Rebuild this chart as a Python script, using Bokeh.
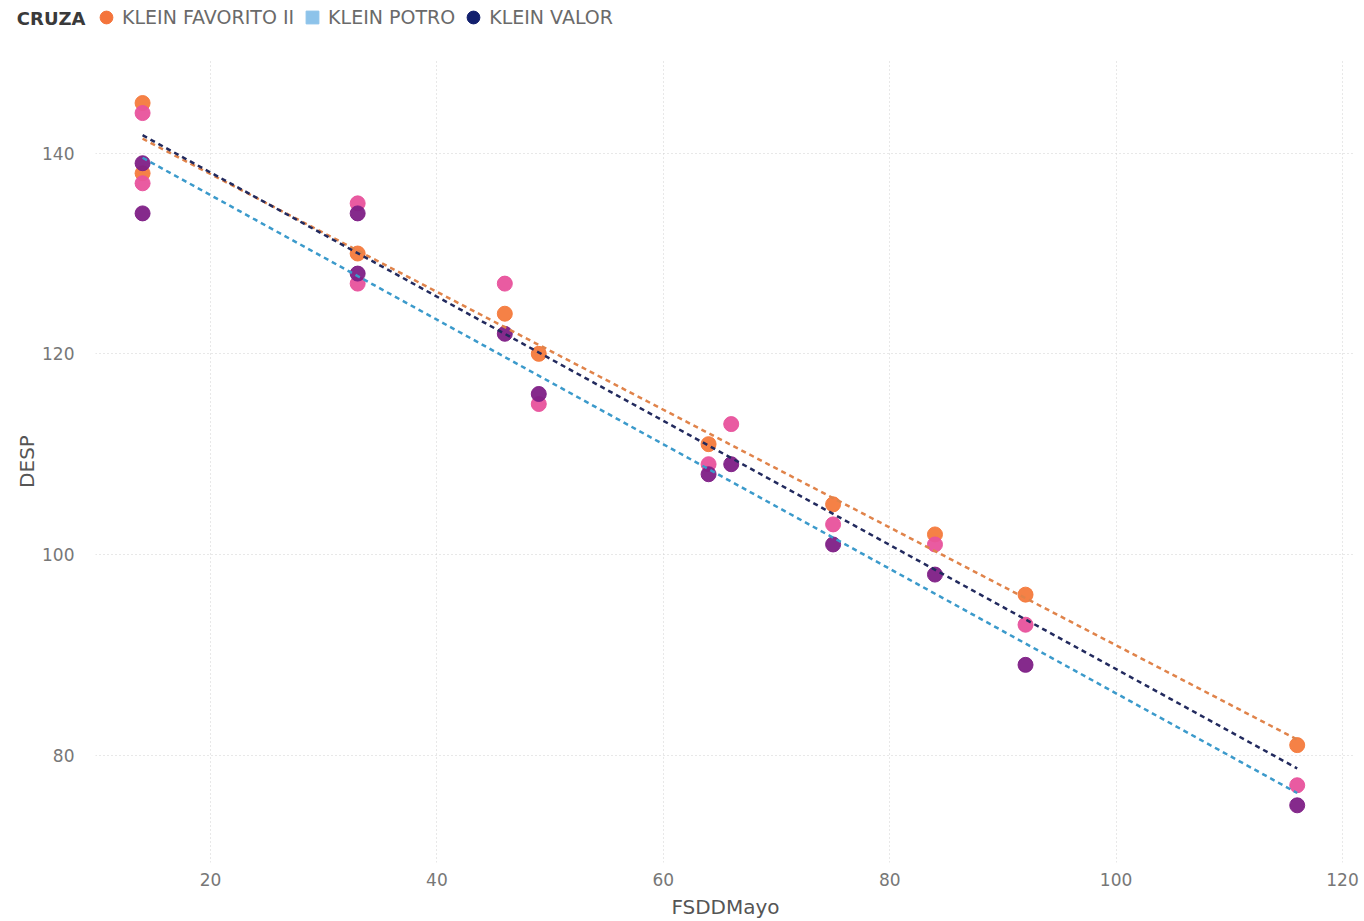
import numpy as np
from bokeh.plotting import figure
from bokeh.layouts import column
from bokeh.models import Legend, LegendItem, FixedTicker, Range1d
from bokeh.embed import file_html
from bokeh.resources import INLINE

# ---------------- data ----------------
legend_title = "CRUZA"
series_names = ["KLEIN FAVORITO II", "KLEIN POTRO", "KLEIN VALOR"]
legend_markers = ["circle", "square", "circle"]
legend_colors = ["#F4743B", "#8DC3EA", "#12206E"]

fav_x = [14, 14, 33, 46, 49, 64, 75, 84, 92, 116]
fav_y = [145, 138, 130, 124, 120, 111, 105, 102, 96, 81]

valor_x = [14, 14, 33, 33, 46, 49, 64, 66, 75, 84, 92, 116]
valor_y = [144, 137, 135, 127, 127, 115, 109, 113, 103, 101, 93, 77]

potro_x = [14, 14, 33, 33, 46, 49, 64, 66, 75, 84, 92, 116]
potro_y = [139, 134, 134, 128, 122, 116, 108, 109, 101, 98, 89, 75]

x_ticks = [20, 40, 60, 80, 100, 120]
y_ticks = [80, 100, 120, 140]

FONT = "DejaVu Sans"

# ---------------- layout sizes ----------------
W = 1364
HH = 36            # legend header strip
H = 921 - HH       # main chart
BL, BT, BB, BR = 95, 60 - HH, 56, 9

# ---------------- header (legend) ----------------
hdr = figure(width=W, height=HH, x_range=Range1d(0, 1), y_range=Range1d(0, 1),
             x_axis_type=None, output_backend="svg", toolbar_location=None,
             min_border_left=BL, min_border_right=BR, min_border_top=0,
             min_border_bottom=0)
hdr.outline_line_color = None
hdr.grid.visible = False
hax = hdr.yaxis[0]
hax.ticker = FixedTicker(ticks=[0.5])
hax.major_label_overrides = {0.5: legend_title}
hax.axis_line_color = None
hax.major_tick_line_color = None
hax.minor_tick_line_color = None
hax.major_label_standoff = 4
hax.major_label_text_font = FONT
hax.major_label_text_font_style = "bold"
hax.major_label_text_font_size = "18px"
hax.major_label_text_color = "#3A3A3A"

items = []
for name, mk, col in zip(series_names, legend_markers, legend_colors):
    # legend key placeholder (not plotted: NaN position)
    r = hdr.scatter(x=[np.nan], y=[np.nan], marker=mk, fill_color=col, line_color=col)
    items.append(LegendItem(label=name, renderers=[r]))

legend = Legend(items=items, orientation="horizontal",
                location=(-5, HH - 17 - 16),
                border_line_color=None, background_fill_alpha=0,
                padding=0, margin=0, spacing=2, glyph_width=32,
                glyph_height=32, label_standoff=-9,
                label_text_font=FONT, label_text_font_size="19px",
                label_text_color="#6A6A6A", label_height=20)
hdr.add_layout(legend, "center")

# ---------------- main figure ----------------
p = figure(width=W, height=H, x_range=(9.84, 121.15), y_range=(69.3, 149.24),
           output_backend="svg", toolbar_location=None,
           min_border_left=BL, min_border_top=BT, min_border_bottom=BB,
           min_border_right=BR)
p.outline_line_color = None
p.background_fill_color = "white"

for ax in (p.xaxis[0], p.yaxis[0]):
    ax.axis_line_color = None
    ax.major_tick_line_color = None
    ax.minor_tick_line_color = None
    ax.major_label_text_color = "#777777"
    ax.major_label_text_font = FONT
    ax.major_label_text_font_size = "17px"
    ax.axis_label_text_color = "#555555"
    ax.axis_label_text_font = FONT
    ax.axis_label_text_font_size = "20px"
    ax.axis_label_text_font_style = "normal"

p.xaxis.ticker = FixedTicker(ticks=x_ticks)
p.yaxis.ticker = FixedTicker(ticks=y_ticks)
p.xaxis.axis_label = "FSDDMayo"
p.yaxis.axis_label = "DESP"
p.xaxis.major_label_standoff = 4
p.xaxis.axis_label_standoff = 6
p.yaxis.major_label_standoff = 15
p.yaxis.axis_label_standoff = 0

for g in (p.xgrid[0], p.ygrid[0]):
    g.grid_line_color = "#D0D0D0"
    g.grid_line_dash = "1 3"
    g.grid_line_width = 1

# ---------------- points ----------------
dot_specs = [
    (fav_x, fav_y, "#F47A3C"),
    (valor_x, valor_y, "#E8529C"),
    (potro_x, potro_y, "#7E1F86"),
]
for xs, ys, col in dot_specs:
    p.scatter(xs, ys, size=15, marker="circle", fill_color=col,
              line_color=col, fill_alpha=0.95, line_alpha=0.95)

# ---------------- trend lines ----------------
line_specs = [
    (fav_x, fav_y, "#E0834A"),
    (valor_x, valor_y, "#222A5E"),
    (potro_x, potro_y, "#3B9ACB"),
]
for xs, ys, col in line_specs:
    coef = np.polyfit(xs, ys, 1)
    lx = [min(xs), max(xs)]
    ly = list(np.polyval(coef, lx))
    p.line(lx, ly, line_color=col, line_width=2.5, line_dash="5 4")

layout = column(hdr, p, spacing=0)
open("out.html", "w").write(file_html(layout, INLINE))
